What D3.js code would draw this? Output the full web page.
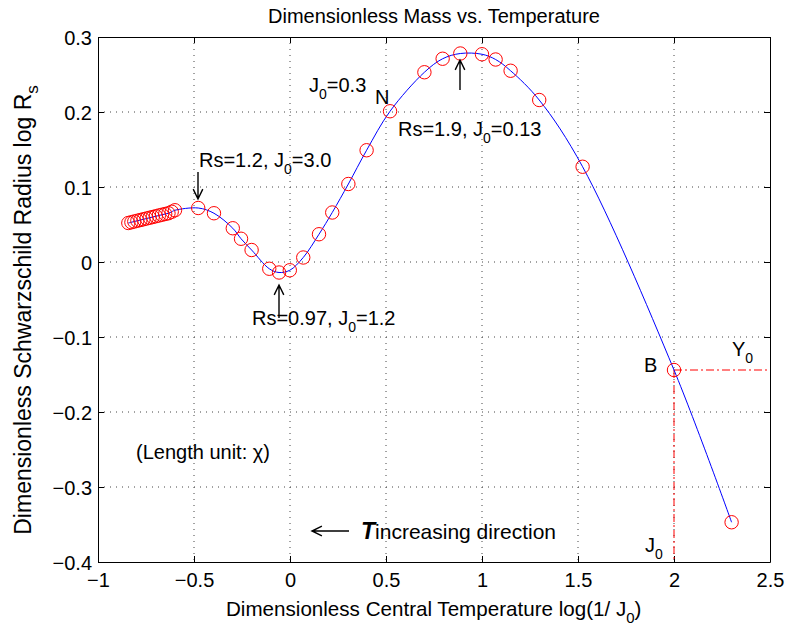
<!DOCTYPE html>
<html><head><meta charset="utf-8">
<script src="https://cdn.jsdelivr.net/npm/d3@7"></script>
<style>body{margin:0;background:#fff}text{font-family:"Liberation Sans",Arial,sans-serif;fill:#000}</style>
</head><body>
<svg id="c" width="792" height="626"></svg>
<script>
const logInvJ0 = [-0.842,-0.826,-0.811,-0.795,-0.779,-0.763,-0.747,-0.731,-0.715,-0.699,-0.683,-0.667,-0.650,-0.633,-0.616,-0.599,
  -0.478,-0.396,-0.298,-0.255,-0.200,-0.108,-0.057,-0.001,0.069,0.151,0.220,0.304,0.399,0.521,0.700,0.795,0.887,1.000,1.071,1.149,1.298,1.524,2.000,2.300];
const logRs = [0.052,0.053,0.054,0.055,0.056,0.057,0.058,0.059,0.060,0.061,0.062,0.063,0.064,0.065,0.067,0.069,
  0.072,0.065,0.045,0.031,0.016,-0.009,-0.014,-0.011,0.006,0.037,0.066,0.104,0.149,0.201,0.253,0.271,0.278,0.277,0.270,0.255,0.216,0.127,-0.144,-0.347];
const xTicks = [-1,-0.5,0,0.5,1,1.5,2,2.5];
const yTicks = [-0.4,-0.3,-0.2,-0.1,0,0.1,0.2,0.3];
const pointB = {x:2.0, y:-0.144};

const svg = d3.select("#c");
const L=98,R=770,T=37,B=562;
const x = d3.scaleLinear().domain([-1,2.5]).range([L,R]);
const y = d3.scaleLinear().domain([-0.4,0.3]).range([B,T]);
const fmt = d => d===0?"0":String(d).replace("-","\u2212");

// grid
const g = svg.append("g");
xTicks.slice(1,-1).forEach(t=>g.append("line").attr("x1",x(t)).attr("x2",x(t)).attr("y1",T).attr("y2",B)
  .attr("stroke","#444").attr("stroke-width",1).attr("stroke-dasharray","1,5"));
yTicks.slice(1,-1).forEach(t=>g.append("line").attr("x1",L).attr("x2",R).attr("y1",y(t)).attr("y2",y(t))
  .attr("stroke","#444").attr("stroke-width",1).attr("stroke-dasharray","1,5"));

// axes
const xa = svg.append("g").attr("transform",`translate(0,${B})`)
  .call(d3.axisBottom(x).tickValues(xTicks).tickFormat(fmt).tickSizeInner(-6).tickSizeOuter(0).tickPadding(11));
const xt = svg.append("g").attr("transform",`translate(0,${T})`)
  .call(d3.axisTop(x).tickValues(xTicks).tickFormat("").tickSizeInner(-6).tickSizeOuter(0));
const ya = svg.append("g").attr("transform",`translate(${L},0)`)
  .call(d3.axisLeft(y).tickValues(yTicks).tickFormat(fmt).tickSizeInner(-6).tickSizeOuter(0).tickPadding(6));
const yr = svg.append("g").attr("transform",`translate(${R},0)`)
  .call(d3.axisRight(y).tickValues(yTicks).tickFormat("").tickSizeInner(-6).tickSizeOuter(0));
[xa,xt,ya,yr].forEach(a=>{a.selectAll("path,line").attr("stroke","#000");a.selectAll("text").attr("font-size",20).attr("font-family","Liberation Sans, Arial, sans-serif");});
ya.selectAll("text").attr("dy","0.35em");

// red dash-dot guide lines
svg.append("line").attr("x1",x(pointB.x)).attr("x2",R).attr("y1",y(pointB.y)).attr("y2",y(pointB.y))
  .attr("stroke","red").attr("stroke-width",1).attr("stroke-dasharray","8,3,2,3");
svg.append("line").attr("x1",x(pointB.x)).attr("x2",x(pointB.x)).attr("y1",y(pointB.y)).attr("y2",B)
  .attr("stroke","red").attr("stroke-width",1).attr("stroke-dasharray","8,3,2,3");

// curve
const pts = logInvJ0.map((v,i)=>[v,logRs[i]]);
svg.append("path").datum(pts)
  .attr("d",d3.line().x(d=>x(d[0])).y(d=>y(d[1])).curve(d3.curveCatmullRom.alpha(0.5)))
  .attr("fill","none").attr("stroke","#0000ff").attr("stroke-width",1);
svg.append("g").selectAll("circle").data(pts).join("circle")
  .attr("cx",d=>x(d[0])).attr("cy",d=>y(d[1])).attr("r",6.7)
  .attr("fill","none").attr("stroke","#ff0000").attr("stroke-width",1);

function label(px,py,parts,size=20){
  const t=svg.append("text").attr("x",px).attr("y",py).attr("font-size",size);
  let prevSub=false;
  parts.forEach(([s,isSub])=>{
    const ts=t.append("tspan").text(s);
    if(isSub){ts.attr("dy",7).attr("font-size",Math.round(size*0.72));prevSub=true;}
    else if(prevSub){ts.attr("dy",-7);prevSub=false;}
  });
  return t;
}
function arrow(x0,y0,x1,y1){
  const a=Math.atan2(y1-y0,x1-x0),h=11,w=0.45;
  svg.append("path").attr("d",`M${x0},${y0}L${x1},${y1}M${x1-h*Math.cos(a-w)},${y1-h*Math.sin(a-w)}L${x1},${y1}L${x1-h*Math.cos(a+w)},${y1-h*Math.sin(a+w)}`)
    .attr("fill","none").attr("stroke","#000").attr("stroke-width",1.4);
}

svg.append("text").attr("x",(L+R)/2).attr("y",23).attr("text-anchor","middle").attr("font-size",20).text("Dimensionless Mass vs. Temperature");
label(226,616,[["Dimensionless Central Temperature log(1/ J",0],["0",1],[")",0]],20.6);
label(0,0,[["Dimensionless Schwarzschild Radius log R",0],["s",1]],23)
  .attr("transform","translate(31,310) rotate(-90)").attr("text-anchor","middle");

label(199,167,[["Rs=1.2, J",0],["0",1],["=3.0",0]]);
arrow(198,172,198,199);
label(252,325,[["Rs=0.97, J",0],["0",1],["=1.2",0]]);
arrow(279,318,279,285);
label(309,92,[["J",0],["0",1],["=0.3",0]]);
svg.append("text").attr("x",375).attr("y",104).attr("font-size",20).text("N");
label(398,136,[["Rs=1.9, J",0],["0",1],["=0.13",0]]);
arrow(460,90,460,60);
svg.append("text").attr("x",644).attr("y",372).attr("font-size",20).text("B");
label(732,356,[["Y",0],["0",1]]);
label(645,552,[["J",0],["0",1]]);
svg.append("text").attr("x",136).attr("y",459).attr("font-size",20).text("(Length unit: \u03c7)");
arrow(349,531,312,531);
const tt=svg.append("text").attr("x",361).attr("y",539).attr("font-size",21);
tt.append("tspan").attr("font-weight","bold").attr("font-style","italic").attr("font-size",23).text("T");
tt.append("tspan").text("increasing direction");
</script>
</body></html>
